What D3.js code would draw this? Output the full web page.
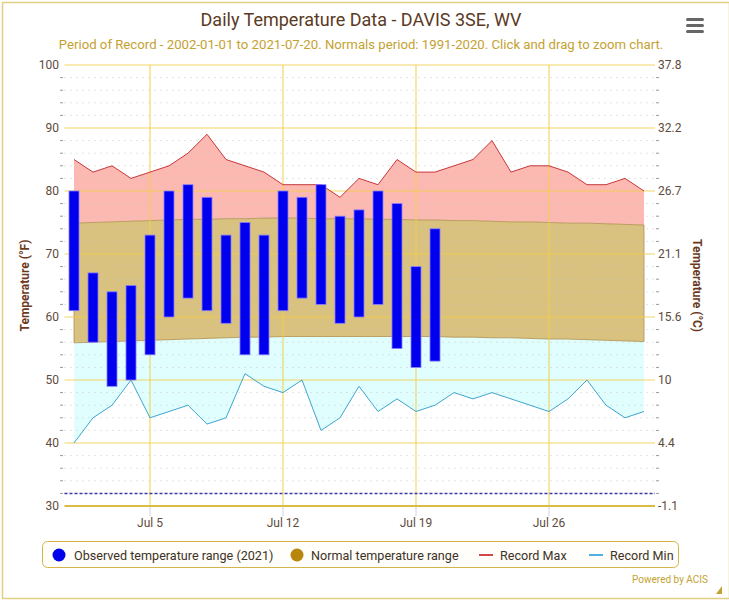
<!DOCTYPE html>
<html>
<head>
<meta charset="utf-8">
<script src="https://cdn.jsdelivr.net/npm/d3@7"></script>
<style>
  body { margin: 0; background: #fff; font-family: Roboto, 'Noto Sans', sans-serif; }
  svg text { font-family: Roboto, 'Noto Sans', sans-serif; }
</style>
</head>
<body>
<div id="chart"></div>
<script>
// July 2021, day of month
var days = d3.range( 1, 32 );

var recordMax = [ 85, 83, 84, 82, 83, 84, 86, 89, 85, 84, 83, 81, 81, 81, 79, 82,
                  81, 85, 83, 83, 84, 85, 88, 83, 84, 84, 83, 81, 81, 82, 80 ];

var recordMin = [ 40, 44, 46, 50, 44, 45, 46, 43, 44, 51, 49, 48, 50, 42, 44, 49,
                  45, 47, 45, 46, 48, 47, 48, 47, 46, 45, 47, 50, 46, 44, 45 ];

var normalHigh = [ 74.9, 75.0, 75.1, 75.2, 75.3, 75.4, 75.5, 75.5, 75.6, 75.6, 75.7, 75.7,
                   75.7, 75.6, 75.6, 75.6, 75.5, 75.5, 75.4, 75.4, 75.3, 75.3, 75.2, 75.1,
                   75.1, 75.0, 74.9, 74.9, 74.8, 74.7, 74.6 ];

var normalLow = [ 55.9, 56.0, 56.1, 56.2, 56.3, 56.4, 56.5, 56.6, 56.7, 56.8, 56.8, 56.9,
                  56.9, 56.9, 56.9, 56.9, 56.9, 56.9, 56.9, 56.9, 56.8, 56.8, 56.7, 56.7,
                  56.6, 56.5, 56.5, 56.4, 56.3, 56.2, 56.1 ];

// observed 2021, Jul 1 - Jul 20
var obsHigh = [ 80, 67, 64, 65, 73, 80, 81, 79, 73, 75, 73, 80, 79, 81, 76, 77, 80, 78, 68, 74 ];
var obsLow  = [ 61, 56, 49, 50, 54, 60, 63, 61, 59, 54, 54, 61, 63, 62, 59, 60, 62, 55, 52, 53 ];

var tickDays   = [ 5, 12, 19, 26 ];
var tickLabels = [ 'Jul 5', 'Jul 12', 'Jul 19', 'Jul 26' ];
var yTicks     = [ 30, 40, 50, 60, 70, 80, 90, 100 ];
var cTickLabels = [ '-1.1', '4.4', '10', '15.6', '21.1', '26.7', '32.2', '37.8' ];

var width  = 729,
    height = 601,
    plot   = { left: 64.5, right: 655, top: 65, bottom: 506 };

var svg = d3.select( '#chart' ).append( 'svg' )
            .attr( 'width', width )
            .attr( 'height', height );

function date( d ) {
  return new Date( 2021, 6, d );
}

var x = d3.scaleTime()
          .domain( [ new Date( 2021, 5, 30, 12 ), new Date( 2021, 6, 31, 12 ) ] )
          .range( [ plot.left, plot.left + 31 * 19 ] );

var y = d3.scaleLinear()
          .domain( [ 30, 100 ] )
          .range( [ plot.bottom, plot.top ] );

// outer frame
svg.append( 'rect' )
   .attr( 'x', 2.5 ).attr( 'y', 2.5 )
   .attr( 'width', width - 2 ).attr( 'height', height - 5 )
   .attr( 'fill', 'none' )
   .attr( 'stroke', '#e2cf86' )
   .attr( 'stroke-width', 1.5 );

svg.append( 'text' )
   .attr( 'x', 361 ).attr( 'y', 26 )
   .attr( 'text-anchor', 'middle' )
   .attr( 'fill', '#5b3a24' )
   .style( 'font-size', '18px' )
   .text( 'Daily Temperature Data - DAVIS 3SE, WV' );

svg.append( 'text' )
   .attr( 'x', 361 ).attr( 'y', 49 )
   .attr( 'text-anchor', 'middle' )
   .attr( 'fill', '#c4a232' )
   .style( 'font-size', '13.2px' )
   .text( 'Period of Record - 2002-01-01 to 2021-07-20. Normals period: 1991-2020. Click and drag to zoom chart.' );

// menu icon
svg.append( 'g' ).selectAll( 'rect' )
   .data( [ 0, 1, 2 ] )
   .enter().append( 'rect' )
   .attr( 'x', 686 ).attr( 'y', function( d ) { return 18 + d * 6; } )
   .attr( 'width', 18 ).attr( 'height', 3 )
   .attr( 'rx', 1.5 )
   .attr( 'fill', '#666' );

// areas
var band = function( lo, hi ) {
  return d3.area()
           .x( function( d, i ) { return x( date( days[ i ] ) ); } )
           .y0( function( d, i ) { return y( lo[ i ] ); } )
           .y1( function( d, i ) { return y( hi[ i ] ); } );
};

var areas = svg.append( 'g' ).attr( 'class', 'areas' );

areas.append( 'path' )
     .attr( 'd', band( normalHigh, recordMax )( days ) )
     .attr( 'fill', '#fbb9b1' );

areas.append( 'path' )
     .attr( 'd', band( recordMin, normalLow )( days ) )
     .attr( 'fill', '#e0fefd' );

areas.append( 'path' )
     .attr( 'd', band( normalLow, normalHigh )( days ) )
     .attr( 'fill', '#d9c17f' )
     .attr( 'stroke', '#b09050' )
     .attr( 'stroke-width', 0.8 );

// minor dotted grid
var minor = d3.range( 32, 100, 2 ).filter( function( v ) { return v % 10 !== 0; } );

svg.append( 'g' ).selectAll( 'line' )
   .data( minor )
   .enter().append( 'line' )
   .attr( 'x1', plot.left ).attr( 'x2', plot.right )
   .attr( 'y1', function( d ) { return y( d ); } )
   .attr( 'y2', function( d ) { return y( d ); } )
   .attr( 'stroke', '#c8c8c8' )
   .attr( 'stroke-width', 1 )
   .attr( 'stroke-dasharray', '1,5' );

// minor ticks on both axes
svg.append( 'g' ).selectAll( 'line' )
   .data( minor )
   .enter().append( 'line' )
   .attr( 'x1', 60 ).attr( 'x2', 63 )
   .attr( 'y1', function( d ) { return y( d ); } )
   .attr( 'y2', function( d ) { return y( d ); } )
   .attr( 'stroke', '#999' );

svg.append( 'g' ).selectAll( 'line' )
   .data( minor )
   .enter().append( 'line' )
   .attr( 'x1', plot.right + 1 ).attr( 'x2', plot.right + 4 )
   .attr( 'y1', function( d ) { return y( d ); } )
   .attr( 'y2', function( d ) { return y( d ); } )
   .attr( 'stroke', '#999' );

// major horizontal grid
svg.append( 'g' ).selectAll( 'line' )
   .data( yTicks.slice( 1 ) )
   .enter().append( 'line' )
   .attr( 'x1', plot.left ).attr( 'x2', plot.right )
   .attr( 'y1', function( d ) { return y( d ); } )
   .attr( 'y2', function( d ) { return y( d ); } )
   .attr( 'stroke', '#f2cf4a' )
   .attr( 'stroke-opacity', 0.85 )
   .attr( 'stroke-width', 1.2 );

// vertical grid
svg.append( 'g' ).selectAll( 'line' )
   .data( tickDays )
   .enter().append( 'line' )
   .attr( 'x1', function( d ) { return x( date( d ) ); } )
   .attr( 'x2', function( d ) { return x( date( d ) ); } )
   .attr( 'y1', plot.top ).attr( 'y2', plot.bottom )
   .attr( 'stroke', '#f2cf4a' )
   .attr( 'stroke-opacity', 0.85 )
   .attr( 'stroke-width', 1.2 );

svg.append( 'g' ).selectAll( 'line' )
   .data( tickDays )
   .enter().append( 'line' )
   .attr( 'x1', function( d ) { return x( date( d ) ); } )
   .attr( 'x2', function( d ) { return x( date( d ) ); } )
   .attr( 'y1', plot.bottom ).attr( 'y2', plot.bottom + 10 )
   .attr( 'stroke', '#c8d4e8' );

// freezing line
svg.append( 'line' )
   .attr( 'x1', plot.left ).attr( 'x2', plot.right )
   .attr( 'y1', y( 32 ) ).attr( 'y2', y( 32 ) )
   .attr( 'stroke', '#3a3aa8' )
   .attr( 'stroke-width', 1.5 )
   .attr( 'stroke-dasharray', '3,2' );

// x axis baseline
svg.append( 'line' )
   .attr( 'x1', plot.left ).attr( 'x2', plot.right )
   .attr( 'y1', y( 30 ) ).attr( 'y2', y( 30 ) )
   .attr( 'stroke', '#d9bc45' )
   .attr( 'stroke-width', 2 );

// record lines
var line = function( values ) {
  return d3.line()
           .x( function( d, i ) { return x( date( days[ i ] ) ); } )
           .y( function( d, i ) { return y( values[ i ] ); } );
};

svg.append( 'path' )
   .attr( 'd', line( recordMax )( days ) )
   .attr( 'fill', 'none' )
   .attr( 'stroke', '#c8373a' )
   .attr( 'stroke-width', 1 );

svg.append( 'path' )
   .attr( 'd', line( recordMin )( days ) )
   .attr( 'fill', 'none' )
   .attr( 'stroke', '#3ea5cf' )
   .attr( 'stroke-width', 1 );

// observed bars
svg.append( 'g' ).attr( 'class', 'observed' )
   .selectAll( 'rect' )
   .data( obsHigh )
   .enter().append( 'rect' )
   .attr( 'x', function( d, i ) { return x( date( days[ i ] ) ) - 5; } )
   .attr( 'y', function( d ) { return y( d ); } )
   .attr( 'width', 10 )
   .attr( 'height', function( d, i ) { return y( obsLow[ i ] ) - y( d ); } )
   .attr( 'fill', '#0000ee' )
   .attr( 'stroke', '#8a7cff' )
   .attr( 'stroke-width', 0.8 );

// y labels
var labelColor = '#5e4b3c';

svg.append( 'g' ).selectAll( 'text' )
   .data( yTicks )
   .enter().append( 'text' )
   .attr( 'x', 59 )
   .attr( 'y', function( d ) { return y( d ) + 4; } )
   .attr( 'text-anchor', 'end' )
   .attr( 'fill', labelColor )
   .style( 'font-size', '12px' )
   .text( function( d ) { return d; } );

svg.append( 'g' ).selectAll( 'text' )
   .data( yTicks )
   .enter().append( 'text' )
   .attr( 'x', 658 )
   .attr( 'y', function( d ) { return y( d ) + 4; } )
   .attr( 'fill', labelColor )
   .style( 'font-size', '12px' )
   .text( function( d, i ) { return cTickLabels[ i ]; } );

svg.append( 'g' ).selectAll( 'text' )
   .data( tickDays )
   .enter().append( 'text' )
   .attr( 'x', function( d ) { return x( date( d ) ); } )
   .attr( 'y', 527 )
   .attr( 'text-anchor', 'middle' )
   .attr( 'fill', labelColor )
   .style( 'font-size', '12px' )
   .text( function( d, i ) { return tickLabels[ i ]; } );

svg.append( 'text' )
   .attr( 'transform', 'translate(29,' + y( 65 ) + ') rotate(-90)' )
   .attr( 'text-anchor', 'middle' )
   .attr( 'fill', '#6b3a1e' )
   .style( 'font-size', '12px' )
   .style( 'font-weight', 'bold' )
   .text( 'Temperature (°F)' );

svg.append( 'text' )
   .attr( 'transform', 'translate(693,' + y( 65 ) + ') rotate(90)' )
   .attr( 'text-anchor', 'middle' )
   .attr( 'fill', '#6b3a1e' )
   .style( 'font-size', '12px' )
   .style( 'font-weight', 'bold' )
   .text( 'Temperature (°C)' );

// legend
var legend = svg.append( 'g' ).attr( 'class', 'legend' );

legend.append( 'rect' )
      .attr( 'x', 42.5 ).attr( 'y', 541.5 )
      .attr( 'width', 636 ).attr( 'height', 26 )
      .attr( 'rx', 5 )
      .attr( 'fill', '#fffefa' )
      .attr( 'stroke', '#d4b54a' )
      .attr( 'stroke-width', 1 );

var legendItems = [
  { label: 'Observed temperature range (2021)', color: '#0000ee', type: 'dot',  x: 59,  tx: 74 },
  { label: 'Normal temperature range',          color: '#b8860b', type: 'dot',  x: 297, tx: 311 },
  { label: 'Record Max',                        color: '#d04848', type: 'line', x: 486, tx: 500 },
  { label: 'Record Min',                        color: '#50b0e0', type: 'line', x: 596, tx: 610 }
];

legendItems.forEach( function( item ) {
  if ( item.type === 'dot' ) {
    legend.append( 'circle' )
          .attr( 'cx', item.x ).attr( 'cy', 555 )
          .attr( 'r', 6.5 )
          .attr( 'fill', item.color );
  } else {
    legend.append( 'line' )
          .attr( 'x1', item.x - 7 ).attr( 'x2', item.x + 7 )
          .attr( 'y1', 555 ).attr( 'y2', 555 )
          .attr( 'stroke', item.color )
          .attr( 'stroke-width', 2 );
  }

  legend.append( 'text' )
        .attr( 'x', item.tx )
        .attr( 'y', 559.5 )
        .attr( 'fill', '#3d3226' )
        .style( 'font-size', '12.6px' )
        .text( item.label );
} );

svg.append( 'text' )
   .attr( 'x', 708 ).attr( 'y', 583 )
   .attr( 'text-anchor', 'end' )
   .attr( 'fill', '#c4a232' )
   .style( 'font-size', '10px' )
   .text( 'Powered by ACIS' );

svg.append( 'path' )
   .attr( 'd', 'M716,594 L722,586 L722,594 Z' )
   .attr( 'fill', '#c4a232' );
</script>
</body>
</html>
